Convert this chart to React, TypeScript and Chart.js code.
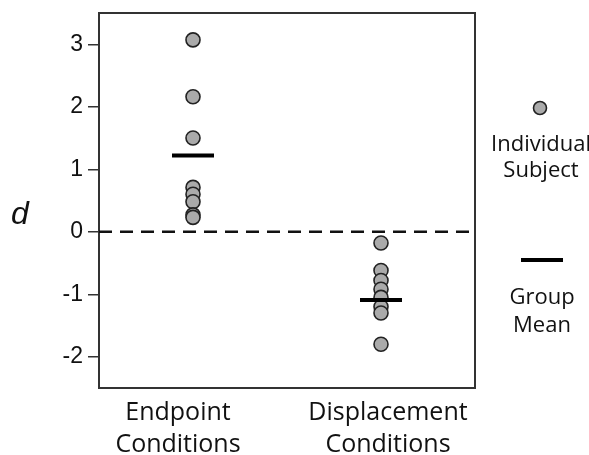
import React, { useEffect, useRef } from "react";
import { Chart, registerables } from "chart.js";

Chart.register(...registerables);

const categories: string[][] = [
  ["Endpoint", "Conditions"],
  ["Displacement", "Conditions"],
];
const categoryLabelShift = [-15, 7];
const endpointSubjects = [3.07, 2.16, 1.5, 0.71, 0.6, 0.48, 0.27, 0.23];
const displacementSubjects = [-0.18, -0.62, -0.78, -0.92, -1.05, -1.2, -1.3, -1.8];
const groupMeans = [1.22, -1.09];
const yTicks = [-2, -1, 0, 1, 2, 3];
const yMin = -2.5;
const yMax = 3.5;
const yLabel = "d";
const legendSubject = ["Individual", "Subject"];
const legendMean = ["Group", "Mean"];

const TEXT = "#111";
const FRAME = "#333";
const HUMANIST = "'Open Sans', 'Noto Sans', sans-serif";
const ARIAL = "'Liberation Sans', Arial, sans-serif";

const framePlugin = {
  id: "frameAndExtras",
  beforeDatasetsDraw(chart: any) {
    const { ctx, chartArea, scales } = chart;
    const y0 = scales.y.getPixelForValue(0);
    ctx.save();
    ctx.strokeStyle = "#111";
    ctx.lineWidth = 2.5;
    ctx.setLineDash([13, 8]);
    ctx.beginPath();
    ctx.moveTo(chartArea.left, y0);
    ctx.lineTo(chartArea.right, y0);
    ctx.stroke();
    ctx.restore();
  },
  afterDraw(chart: any) {
    const { ctx, chartArea, scales } = chart;
    ctx.save();
    // frame top and right
    ctx.strokeStyle = FRAME;
    ctx.lineWidth = 2;
    ctx.beginPath();
    ctx.moveTo(chartArea.left - 1, chartArea.top);
    ctx.lineTo(chartArea.right, chartArea.top);
    ctx.lineTo(chartArea.right, chartArea.bottom + 1);
    ctx.stroke();

    // category labels
    ctx.fillStyle = TEXT;
    ctx.font = `25px ${HUMANIST}`;
    ctx.textAlign = "center";
    ctx.textBaseline = "alphabetic";
    categories.forEach((lines, i) => {
      const x = scales.x.getPixelForValue(i) + categoryLabelShift[i];
      lines.forEach((line, j) => {
        ctx.fillText(line, x, chartArea.bottom + 32 + j * 32);
      });
    });

    // y label
    ctx.font = `italic 32px ${ARIAL}`;
    ctx.fillText(yLabel, chartArea.left - 79, chartArea.top + 211);

    // legend
    const cx = chartArea.right + 66;
    ctx.beginPath();
    ctx.arc(cx - 1, chartArea.top + 95, 6.5, 0, Math.PI * 2);
    ctx.fillStyle = "#aaaaaa";
    ctx.fill();
    ctx.lineWidth = 1.6;
    ctx.strokeStyle = "#222";
    ctx.stroke();

    ctx.fillStyle = TEXT;
    ctx.font = `22px ${HUMANIST}`;
    ctx.textAlign = "center";
    ctx.fillText(legendSubject[0], cx, chartArea.top + 138);
    ctx.fillText(legendSubject[1], cx, chartArea.top + 164);

    ctx.strokeStyle = "#000";
    ctx.lineWidth = 4;
    ctx.beginPath();
    ctx.moveTo(cx - 20, chartArea.top + 247);
    ctx.lineTo(cx + 22, chartArea.top + 247);
    ctx.stroke();

    ctx.fillText(legendMean[0], cx + 1, chartArea.top + 291);
    ctx.fillText(legendMean[1], cx + 1, chartArea.top + 319);
    ctx.restore();
  },
};

export default function App() {
  const ref = useRef<HTMLCanvasElement>(null);
  useEffect(() => {
    document.body.style.margin = "0";
    const canvas = ref.current;
    if (!canvas) return;
    const subjectData = [
      ...endpointSubjects.map((y) => ({ x: 0, y })),
      ...displacementSubjects.map((y) => ({ x: 1, y })),
    ];
    const meanData = groupMeans.map((y, i) => ({ x: i, y }));
    const chart = new Chart(canvas, {
      type: "scatter",
      data: {
        datasets: [
          {
            label: "Group Mean",
            data: meanData,
            pointStyle: "line",
            pointRadius: 21,
            pointHoverRadius: 21,
            borderColor: "#000",
            backgroundColor: "#000",
            pointBorderWidth: 4,
            borderWidth: 4,
          } as any,
          {
            label: "Individual Subject",
            data: subjectData,
            pointRadius: 7,
            pointHoverRadius: 7,
            backgroundColor: "#aaaaaa",
            borderColor: "#222",
            pointBorderWidth: 1.6,
            borderWidth: 1.6,
          } as any,
        ],
      },
      options: {
        animation: false,
        responsive: false,
        events: [],
        layout: { autoPadding: false, padding: { top: 13, right: 114, left: 0, bottom: 0 } },
        plugins: { legend: { display: false }, tooltip: { enabled: false } },
        scales: {
          x: {
            type: "linear",
            min: -0.5,
            max: 1.5,
            afterBuildTicks: (scale: any) => {
              scale.ticks = categories.map((_, i) => ({ value: i }));
            },
            afterFit: (scale: any) => {
              scale.height = 67;
              scale.paddingLeft = 0;
              scale.paddingRight = 0;
            },
            ticks: { display: false },
            grid: { display: false },
            border: { display: true, color: FRAME, width: 2 },
          },
          y: {
            type: "linear",
            min: yMin,
            max: yMax,
            afterBuildTicks: (scale: any) => {
              scale.ticks = yTicks.map((v) => ({ value: v }));
            },
            afterFit: (scale: any) => {
              scale.width = 99;
              scale.paddingTop = 0;
              scale.paddingBottom = 0;
            },
            ticks: {
              padding: 5,
              color: TEXT,
              font: { family: ARIAL, size: 23 },
            },
            grid: {
              drawOnChartArea: false,
              drawTicks: true,
              tickLength: 11,
              color: FRAME,
              lineWidth: 1.5,
            },
            border: { display: true, color: FRAME, width: 2 },
          },
        },
      },
      plugins: [framePlugin],
    });
    return () => chart.destroy();
  }, []);
  return (
    <div style={{ width: 589, height: 455 }}>
      <canvas ref={ref} width={589} height={455} />
    </div>
  );
}
